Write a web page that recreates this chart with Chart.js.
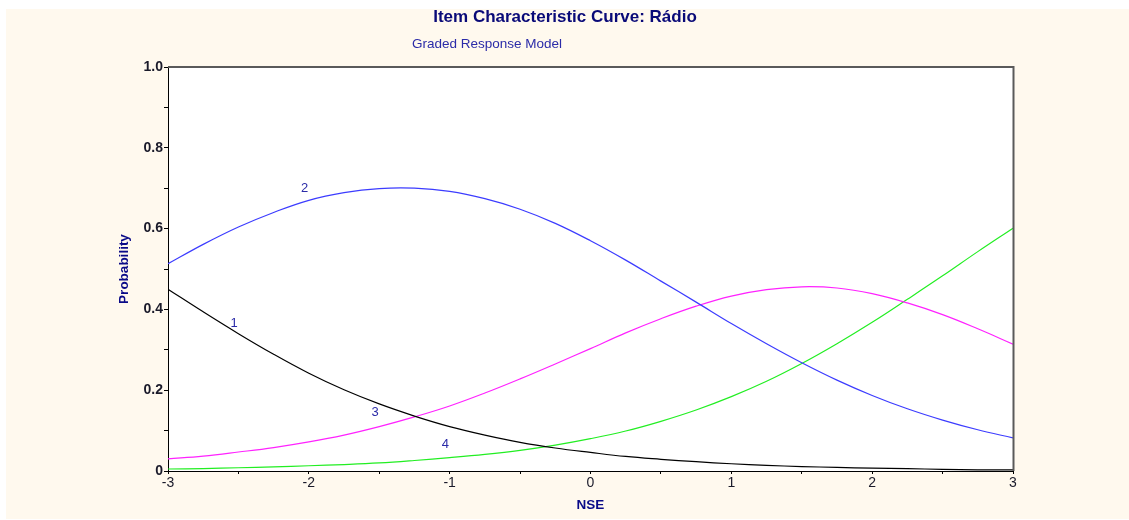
<!DOCTYPE html>
<html>
<head>
<meta charset="utf-8">
<title>Item Characteristic Curve: Rádio</title>
<script src="https://cdn.jsdelivr.net/npm/chart.js@4.4.1/dist/chart.umd.min.js"></script>
<style>
  html, body { margin: 0; padding: 0; background: #ffffff; }
  #wrap { width: 1129px; height: 520px; }
</style>
</head>
<body>
<div id="wrap"><canvas id="icc" width="1129" height="520"></canvas></div>
<script>
// Ability scale (NSE) and category response probabilities
const theta = [-3, -2.75, -2.5, -2.25, -2, -1.75, -1.5, -1.25, -1, -0.75, -0.5, -0.25,
               0, 0.25, 0.5, 0.75, 1, 1.25, 1.5, 1.75, 2, 2.25, 2.5, 2.75, 3];

const cat1 = [0.450, 0.394, 0.340, 0.289, 0.242, 0.201, 0.166, 0.136, 0.110, 0.089, 0.071, 0.057,
              0.046, 0.036, 0.029, 0.023, 0.018, 0.014, 0.011, 0.009, 0.007, 0.006, 0.004, 0.003, 0.003];
const cat2 = [0.513, 0.561, 0.604, 0.640, 0.670, 0.689, 0.699, 0.700, 0.692, 0.674, 0.648, 0.613,
              0.570, 0.522, 0.470, 0.418, 0.365, 0.315, 0.268, 0.225, 0.187, 0.154, 0.126, 0.102, 0.082];
const cat3 = [0.030, 0.037, 0.047, 0.058, 0.072, 0.089, 0.110, 0.134, 0.161, 0.193, 0.228, 0.265,
              0.303, 0.342, 0.377, 0.408, 0.433, 0.449, 0.456, 0.453, 0.439, 0.416, 0.387, 0.352, 0.314];
const cat4 = [0.005, 0.006, 0.008, 0.010, 0.013, 0.016, 0.020, 0.026, 0.033, 0.041, 0.051, 0.064,
              0.080, 0.099, 0.123, 0.151, 0.184, 0.222, 0.266, 0.315, 0.368, 0.425, 0.483, 0.543, 0.601];

const categoryNames = ['1', '2', '3', '4'];
const yTickLabels = ['0', '0.2', '0.4', '0.6', '0.8', '1.0'];
const xTickLabels = ['-3', '-2', '-1', '0', '1', '2', '3'];

const chartTitle = 'Item Characteristic Curve: Rádio';
const chartSubtitle = 'Graded Response Model';
const xTitle = 'NSE';
const yTitle = 'Probability';

// Where each category number is written (in data units)
const curveLabelAnchors = [
  { x: -2.53, y: 0.366 },
  { x: -2.03, y: 0.700 },
  { x: -1.53, y: 0.146 },
  { x: -1.03, y: 0.067 }
];

const lineColors = ['#000000', '#3c3cff', '#ff22ff', '#22ee22'];

const series = [cat1, cat2, cat3, cat4];
const datasets = series.map((vals, i) => ({
  label: categoryNames[i],
  data: theta.map((t, k) => ({ x: t, y: vals[k] })),
  borderColor: lineColors[i],
  borderWidth: 1.2,
  pointRadius: 0,
  fill: false,
  tension: 0.4
}));

const PLOT = { left: 168, top: 67, right: 1013, bottom: 471 };
const FONT = '"Liberation Sans", Arial, sans-serif';

// Page background, plot panel, frame and the free-standing texts
const decor = {
  id: 'decor',
  beforeDraw(chart) {
    const ctx = chart.ctx;
    const a = chart.chartArea;
    ctx.save();
    ctx.fillStyle = '#ffffff';
    ctx.fillRect(0, 0, chart.width, chart.height);
    ctx.fillStyle = '#fff9ee';
    ctx.fillRect(6, 9, chart.width - 6, chart.height - 10);
    ctx.fillStyle = '#ffffff';
    ctx.fillRect(a.left, a.top, a.right - a.left, a.bottom - a.top);
    ctx.restore();
  },
  afterDraw(chart) {
    const ctx = chart.ctx;
    const a = chart.chartArea;
    ctx.save();
    // top and right edges of the frame
    ctx.strokeStyle = '#5a5a5a';
    ctx.lineWidth = 2;
    ctx.beginPath();
    ctx.moveTo(a.left, a.top);
    ctx.lineTo(a.right + 0.5, a.top);
    ctx.lineTo(a.right + 0.5, a.bottom);
    ctx.stroke();

    // titles
    ctx.fillStyle = '#0a0a78';
    ctx.textAlign = 'center';
    ctx.textBaseline = 'middle';
    ctx.font = 'bold 17px ' + FONT;
    ctx.fillText(chartTitle, 565, 17);
    ctx.fillStyle = '#2b2ba8';
    ctx.font = '13.5px ' + FONT;
    ctx.textAlign = 'left';
    ctx.fillText(chartSubtitle, 412, 44);

    // axis titles
    ctx.fillStyle = '#0a0a88';
    ctx.font = 'bold 13.5px ' + FONT;
    ctx.textAlign = 'center';
    ctx.fillText(xTitle, (a.left + a.right) / 2, 505);
    ctx.translate(124, (a.top + a.bottom) / 2);
    ctx.rotate(-Math.PI / 2);
    ctx.fillText(yTitle, 0, 0);
    ctx.restore();
  },
  afterDatasetsDraw(chart) {
    const ctx = chart.ctx;
    const xs = chart.scales.x, ys = chart.scales.y;
    ctx.save();
    ctx.fillStyle = '#2b2ba8';
    ctx.font = '13px ' + FONT;
    ctx.textAlign = 'center';
    ctx.textBaseline = 'middle';
    curveLabelAnchors.forEach((p, i) => {
      ctx.fillText(categoryNames[i], xs.getPixelForValue(p.x), ys.getPixelForValue(p.y));
    });
    ctx.restore();
  }
};

new Chart(document.getElementById('icc'), {
  type: 'line',
  data: { datasets },
  options: {
    responsive: false,
    animation: false,
    events: [],
    layout: {
      padding: { left: 0, top: PLOT.top, right: 1129 - PLOT.right, bottom: 0 }
    },
    plugins: {
      legend: { display: false },
      title: { display: false },
      tooltip: { enabled: false }
    },
    scales: {
      x: {
        type: 'linear',
        min: -3,
        max: 3,
        afterFit(scale) { scale.height = 520 - PLOT.bottom; },
        border: { display: true, color: '#000000', width: 1 },
        grid: { display: true, drawOnChartArea: false, drawTicks: true, tickLength: 3, color: '#000000' },
        ticks: {
          stepSize: 0.5,
          autoSkip: false,
          maxRotation: 0,
          padding: 1,
          color: '#1a1a2a',
          font: { family: FONT, size: 14 },
          callback(value) {
            const r = Math.round(value);
            if (Math.abs(value - r) > 1e-6) return '';
            return xTickLabels[r + 3];
          }
        }
      },
      y: {
        type: 'linear',
        min: 0,
        max: 1,
        afterFit(scale) { scale.width = PLOT.left; },
        border: { display: true, color: '#000000', width: 1 },
        grid: { display: true, drawOnChartArea: false, drawTicks: true, tickLength: 4, color: '#000000' },
        ticks: {
          stepSize: 0.1,
          autoSkip: false,
          padding: 1,
          color: '#1a1a2a',
          font: { family: FONT, size: 14, weight: 'bold' },
          callback(value) {
            const v = Math.round(value * 10);
            if (v % 2 !== 0) return '';
            return yTickLabels[v / 2];
          }
        }
      }
    }
  },
  plugins: [decor]
});
</script>
</body>
</html>
